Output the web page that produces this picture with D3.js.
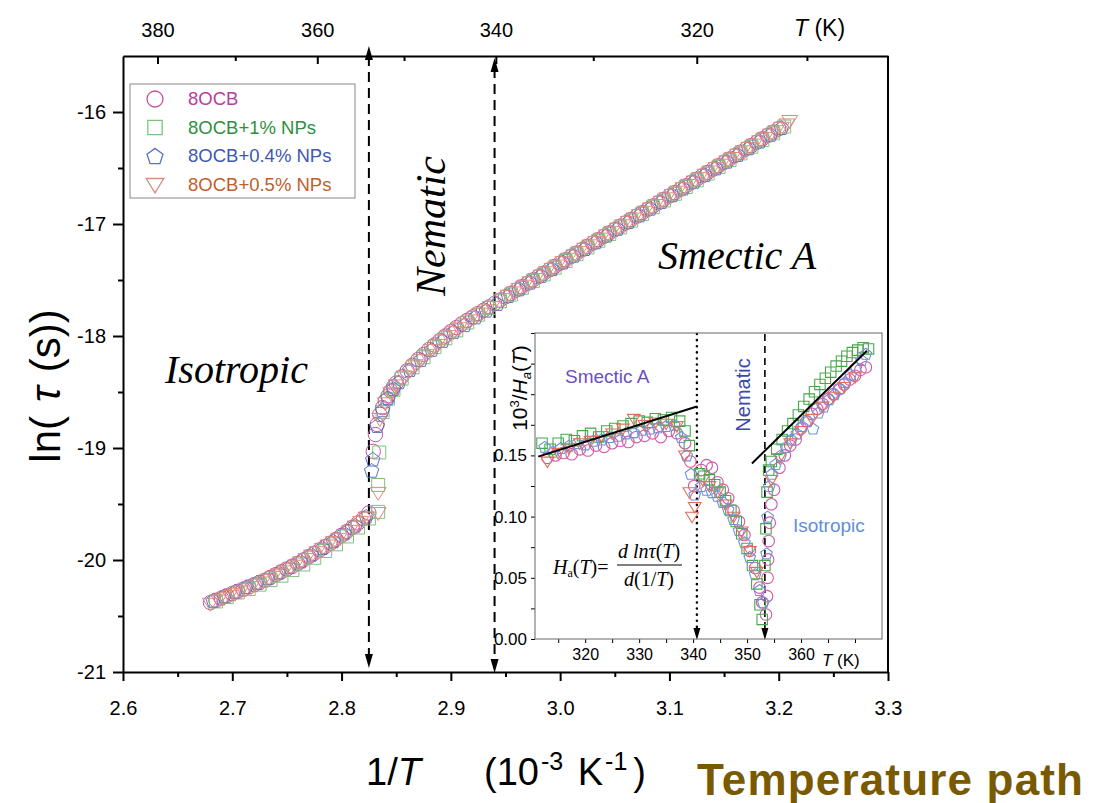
<!DOCTYPE html>
<html lang="en">
<head>
<meta charset="UTF-8" />
<title>ln(tau) vs 1/T</title>
<script src="https://d3js.org/d3.v7.min.js"></script>
<style>
  body { margin: 0; background: #fff; }
  svg { font-family: "Liberation Sans", Arial, sans-serif; }
  .axis path, .axis line { stroke: #000; }
  .axis text { fill: #000; }
  .serif { font-family: "Liberation Serif", "Times New Roman", serif; font-style: italic; }
</style>
</head>
<body>
<svg id="chart" width="1099" height="803"></svg>
<script>
// ---- main plot data: [1/T (1e-3 K^-1), ln(tau)] ----
var main8OCB = [
  [2.680,-20.38],[2.690,-20.34],[2.700,-20.30],[2.710,-20.26],[2.720,-20.22],[2.730,-20.18],[2.740,-20.13],[2.750,-20.08],
  [2.760,-20.03],[2.770,-19.97],[2.780,-19.91],[2.790,-19.85],[2.800,-19.78],[2.810,-19.71],[2.820,-19.63],[2.825,-19.58],
  [2.685,-20.36],[2.695,-20.32],[2.705,-20.28],[2.715,-20.24],[2.725,-20.20],[2.735,-20.155],[2.745,-20.105],[2.755,-20.055],
  [2.765,-20.00],[2.775,-19.94],[2.785,-19.88],[2.795,-19.815],[2.805,-19.745],[2.815,-19.67],
  [2.829,-19.03],[2.831,-18.88],[2.835,-18.70],[2.840,-18.58],[2.845,-18.49],[2.850,-18.42],[2.860,-18.31],[2.870,-18.21],
  [2.880,-18.12],[2.890,-18.04],[2.900,-17.96],[2.910,-17.89],[2.920,-17.83],[2.930,-17.77],[2.940,-17.71],
  [2.8325,-18.79],[2.8375,-18.64],[2.8425,-18.535],[2.8475,-18.455],[2.855,-18.365],[2.865,-18.26],[2.875,-18.165],
  [2.885,-18.08],[2.895,-18.00],[2.905,-17.925],[2.915,-17.86],[2.925,-17.80],[2.935,-17.74],
  [2.950,-17.65],[2.960,-17.59],[2.970,-17.53],[2.980,-17.47],[2.990,-17.41],[3.000,-17.35],[3.010,-17.29],[3.020,-17.23],
  [3.030,-17.17],[3.040,-17.11],[3.050,-17.05],[3.060,-16.99],[3.070,-16.93],[3.080,-16.87],[3.090,-16.81],[3.100,-16.75],
  [3.110,-16.69],[3.120,-16.63],[3.130,-16.57],[3.140,-16.51],[3.150,-16.45],[3.160,-16.39],[3.170,-16.33],[3.180,-16.27],
  [3.190,-16.21],[3.200,-16.15],
  [2.945,-17.68],[2.955,-17.62],[2.965,-17.56],[2.975,-17.50],[2.985,-17.44],[2.995,-17.38],[3.005,-17.32],[3.015,-17.26],
  [3.025,-17.20],[3.035,-17.14],[3.045,-17.08],[3.055,-17.02],[3.065,-16.96],[3.075,-16.90],[3.085,-16.84],[3.095,-16.78],
  [3.105,-16.72],[3.115,-16.66],[3.125,-16.60],[3.135,-16.54],[3.145,-16.48],[3.155,-16.42],[3.165,-16.36],[3.175,-16.30],
  [3.185,-16.24],[3.195,-16.18]
];
var main1NP = [
  [2.685,-20.37],[2.695,-20.33],[2.705,-20.29],[2.715,-20.26],[2.725,-20.22],[2.735,-20.18],[2.745,-20.14],[2.755,-20.09],
  [2.765,-20.04],[2.775,-19.98],[2.785,-19.92],[2.795,-19.86],[2.805,-19.79],[2.815,-19.71],[2.825,-19.63],[2.8335,-19.57],
  [2.8335,-19.33],[2.8345,-19.04],[2.8375,-18.68],[2.8425,-18.56],[2.8475,-18.48],[2.855,-18.38],[2.865,-18.28],[2.875,-18.19],
  [2.885,-18.10],[2.895,-18.02],[2.905,-17.95],[2.915,-17.88],[2.925,-17.81],[2.935,-17.75],
  [2.945,-17.69],[2.955,-17.63],[2.965,-17.57],[2.975,-17.51],[2.985,-17.45],[2.995,-17.39],[3.005,-17.33],[3.015,-17.27],
  [3.025,-17.21],[3.035,-17.15],[3.045,-17.09],[3.055,-17.03],[3.065,-16.97],[3.075,-16.91],[3.085,-16.85],[3.095,-16.79],
  [3.105,-16.73],[3.115,-16.67],[3.125,-16.61],[3.135,-16.55],[3.145,-16.49],[3.155,-16.43],[3.165,-16.37],[3.175,-16.31],
  [3.185,-16.25],[3.195,-16.19],[3.205,-16.13]
];
var main04NP = [
  [2.6825,-20.36],[2.6925,-20.32],[2.7025,-20.28],[2.7125,-20.24],[2.7225,-20.20],[2.7325,-20.16],[2.7425,-20.11],[2.7525,-20.06],
  [2.7625,-20.01],[2.7725,-19.95],[2.7825,-19.89],[2.7925,-19.83],[2.8025,-19.76],[2.8125,-19.69],[2.8225,-19.61],
  [2.8275,-19.20],[2.8285,-19.10],[2.8325,-18.80],[2.8375,-18.66],[2.8425,-18.55],[2.8475,-18.47],[2.8525,-18.41],[2.8625,-18.30],
  [2.8725,-18.21],[2.8825,-18.12],[2.8925,-18.04],[2.9025,-17.96],[2.9125,-17.90],[2.9225,-17.83],[2.9325,-17.77],[2.9425,-17.71],
  [2.9525,-17.64],[2.9625,-17.58],[2.9725,-17.52],[2.9825,-17.46],[2.9925,-17.40],[3.0025,-17.34],[3.0125,-17.28],[3.0225,-17.22],
  [3.0325,-17.16],[3.0425,-17.10],[3.0525,-17.04],[3.0625,-16.98],[3.0725,-16.92],[3.0825,-16.86],[3.0925,-16.80],[3.1025,-16.74],
  [3.1125,-16.68],[3.1225,-16.62],[3.1325,-16.56],[3.1425,-16.50],[3.1525,-16.44],[3.1625,-16.38],[3.1725,-16.32],[3.1825,-16.26],
  [3.1925,-16.20],[3.2025,-16.14]
];
var main05NP = [
  [2.680,-20.39],[2.6875,-20.36],[2.6975,-20.32],[2.7075,-20.28],[2.7175,-20.24],[2.7275,-20.20],[2.7375,-20.15],[2.7475,-20.10],
  [2.7575,-20.05],[2.7675,-19.99],[2.7775,-19.93],[2.7875,-19.87],[2.7975,-19.81],[2.8075,-19.74],[2.8175,-19.66],[2.8335,-19.58],
  [2.6925,-20.34],[2.7025,-20.30],[2.7125,-20.26],[2.7225,-20.22],[2.7325,-20.175],[2.7425,-20.125],[2.7525,-20.075],
  [2.7625,-20.02],[2.7725,-19.96],[2.7825,-19.90],[2.7925,-19.84],[2.8025,-19.775],[2.8125,-19.70],[2.8225,-19.62],
  [2.8335,-19.40],[2.835,-18.74],[2.840,-18.60],[2.845,-18.51],[2.850,-18.44],[2.8575,-18.36],[2.8675,-18.26],[2.8775,-18.17],
  [2.8875,-18.08],[2.8975,-18.00],[2.9075,-17.93],[2.9175,-17.86],[2.9275,-17.80],[2.9375,-17.74],
  [2.8625,-18.31],[2.8725,-18.215],[2.8825,-18.125],[2.8925,-18.04],[2.9025,-17.965],[2.9125,-17.895],[2.9225,-17.83],[2.9325,-17.77],
  [2.9475,-17.67],[2.9575,-17.61],[2.9675,-17.55],[2.9775,-17.49],[2.9875,-17.43],[2.9975,-17.37],[3.0075,-17.31],[3.0175,-17.25],
  [3.0275,-17.19],[3.0375,-17.13],[3.0475,-17.07],[3.0575,-17.01],[3.0675,-16.95],[3.0775,-16.89],[3.0875,-16.83],[3.0975,-16.77],
  [3.1075,-16.71],[3.1175,-16.65],[3.1275,-16.59],[3.1375,-16.53],[3.1475,-16.47],[3.1575,-16.41],[3.1675,-16.35],[3.1775,-16.29],
  [3.1875,-16.23],[3.1975,-16.17],[3.2075,-16.11],[3.2100,-16.08],
  [2.9525,-17.64],[2.9625,-17.58],[2.9725,-17.52],[2.9825,-17.46],[2.9925,-17.40],[3.0025,-17.34],[3.0125,-17.28],[3.0225,-17.22],
  [3.0325,-17.16],[3.0425,-17.10],[3.0525,-17.04],[3.0625,-16.98],[3.0725,-16.92],[3.0825,-16.86],[3.0925,-16.80],[3.1025,-16.74],
  [3.1125,-16.68],[3.1225,-16.62],[3.1325,-16.56],[3.1425,-16.50],[3.1525,-16.44],[3.1625,-16.38],[3.1725,-16.32],[3.1825,-16.26],
  [3.1925,-16.20],[3.2025,-16.14]
];

// ---- inset data: [T (K), 1e3/Ha(T)] ----
var inset8OCB = [
  [313,0.148],[314.5,0.150],[316,0.152],[317.5,0.151],[319,0.155],[320.5,0.154],[322,0.158],[323.5,0.157],[325,0.160],
  [326.5,0.162],[328,0.161],[329.5,0.165],[331,0.166],[332.5,0.168],[334,0.165],[335.5,0.170],[337,0.168],[338.5,0.160],
  [339.5,0.145],[340.2,0.125],
  [341.5,0.138],[342.5,0.142],[343.5,0.140],[344.5,0.128],[345.5,0.122],[346.5,0.115],[347.5,0.105],[348.5,0.096],
  [349.5,0.085],[350.5,0.072],[351.5,0.058],[352.3,0.042],[352.8,0.030],
  [353.5,0.020],[353.7,0.035],[353.8,0.050],[353.9,0.065],[354.0,0.080],[354.2,0.095],[354.5,0.110],[355,0.122],[356,0.140],
  [357,0.150],[358,0.158],[359,0.163],[360,0.172],[361,0.178],[362,0.184],[363,0.188],[364,0.192],[365,0.196],[366,0.200],
  [367,0.204],[368,0.208],[369,0.212],[370,0.215],[371,0.220],[372,0.222]
];
var inset1NP = [
  [312,0.160],[313.5,0.155],[315,0.160],[316.5,0.163],[318,0.162],[319.5,0.166],[321,0.168],[322.5,0.165],[324,0.170],
  [325.5,0.172],[327,0.174],[328.5,0.176],[330,0.178],[331.5,0.177],[333,0.180],[334.5,0.179],[336,0.181],[337.5,0.178],
  [338.5,0.170],[339.3,0.158],
  [341.2,0.135],[342,0.133],[343,0.130],[344,0.126],[345,0.120],[346,0.113],[347,0.105],[348,0.096],[349,0.086],[350,0.074],
  [351,0.060],[351.8,0.045],[352.4,0.028],[352.8,0.016],
  [353.3,0.060],[353.5,0.090],[353.7,0.120],[354,0.138],[354.5,0.145],[355.5,0.155],[356.5,0.163],[357.5,0.170],[358.5,0.176],
  [359.5,0.183],[360.5,0.190],[361.5,0.196],[362.5,0.202],[363.5,0.208],[364.5,0.213],[365.5,0.218],[366.5,0.223],[367.5,0.227],
  [368.5,0.231],[369.5,0.234],[370.5,0.236],[371.5,0.238],[372.5,0.237]
];
var inset04NP = [
  [312.5,0.157],[314,0.153],[315.5,0.156],[317,0.158],[318.5,0.160],[320,0.159],[321.5,0.162],[323,0.163],[324.5,0.165],
  [326,0.166],[327.5,0.168],[329,0.169],[330.5,0.171],[332,0.172],[333.5,0.173],[335,0.174],[336.5,0.175],[337.8,0.165],
  [338.8,0.150],[339.6,0.135],[340.3,0.118],
  [341.5,0.125],[342.5,0.122],[343.5,0.120],[344.5,0.117],[345.5,0.112],[346.5,0.106],[347.5,0.098],[348.5,0.089],
  [349.5,0.079],[350.5,0.067],[351.5,0.053],[352.3,0.040],[353,0.030],
  [353.6,0.070],[353.8,0.100],[354.1,0.125],[354.6,0.135],[355.3,0.143],[356.2,0.150],[357.2,0.157],[358.2,0.163],[359.2,0.168],
  [360.2,0.174],[361.2,0.178],[362.2,0.172],[363.2,0.185],[364.2,0.190],[365.2,0.196],[366.2,0.200],[367.2,0.205],[368.2,0.210],
  [369.2,0.216],[370.2,0.222],[371.2,0.228],[372,0.233]
];
var inset05NP = [
  [313,0.145],[315,0.152],[317,0.156],[319,0.160],[321,0.162],[323,0.166],[325,0.168],[327,0.172],[329,0.180],[331,0.175],
  [333,0.177],[335,0.176],[337,0.174],[338.5,0.150],[339.3,0.120],[339.8,0.100],[340.3,0.108],
  [341.8,0.130],[343,0.125],[344.5,0.120],[346,0.110],[347.5,0.100],[349,0.088],[350.5,0.072],[351.8,0.055],
  [354.5,0.130],[356,0.148],[358,0.160],[360,0.170],[362,0.180],[364,0.190],[366,0.198],[368,0.206],[370,0.214]
];
// linear fits drawn in the inset
var fitSmectic = [[311.3,0.149],[340.7,0.190]];
var fitIsotropic = [[350.9,0.1434],[372.2,0.2355]];

var seriesNames = ["8OCB", "8OCB+1% NPs", "8OCB+0.4% NPs", "8OCB+0.5% NPs"];
var mainData = [main8OCB, main1NP, main04NP, main05NP];
var insetData = [inset8OCB, inset1NP, inset04NP, inset05NP];

// transitions (1/T and T)
var transInvT = [2.825, 2.94];
var transT = [340.7, 353.3];

var topTempMajor = [380, 360, 340, 320];
var topTempMinor = [370, 350, 330, 310];

// ---- styles ----
var shapes = ["circle", "square", "pentagon", "triangle"];
var markColor = ["#c4509c", "#7cc47c", "#5a73c4", "#d98c80"];
var legendTextColor = ["#b8409a", "#2f8f3f", "#4058b0", "#c0602c"];
var insetColor = ["#d05aa8", "#46a84c", "#6f92dc", "#e0705c"];

var svg = d3.select("#chart");

function markerPath(shape, r) {
  if (shape === "circle") return d3.symbol(d3.symbolCircle, Math.PI * r * r)();
  if (shape === "square") return d3.symbol(d3.symbolSquare, (1.8 * r) * (1.8 * r))();
  if (shape === "pentagon") {
    var pts = d3.range(5).map(function (k) {
      var a = -Math.PI / 2 + k * 2 * Math.PI / 5;
      return [r * 1.05 * Math.cos(a), r * 1.05 * Math.sin(a) + r * 0.1];
    });
    return "M" + pts.join("L") + "Z";
  }
  // triangle pointing down
  return "M" + (-r * 1.1) + "," + (-r * 0.75) + "L" + (r * 1.1) + "," + (-r * 0.75) + "L0," + (r * 1.05) + "Z";
}

// ---- main scales ----
var x = d3.scaleLinear().domain([2.6, 3.3]).range([123, 888]);
var y = d3.scaleLinear().domain([-21, -15.5]).range([672, 56]);

// bottom axis
svg.append("g").attr("class", "axis").attr("transform", "translate(0,672)")
  .call(d3.axisBottom(x).tickValues(d3.range(2.65, 3.3, 0.1)).tickSize(5).tickFormat(""))
  .call(function (g) { g.select(".domain").remove(); g.selectAll("line").attr("stroke-width", 2); });
svg.append("g").attr("class", "axis").attr("transform", "translate(0,672)")
  .call(d3.axisBottom(x).tickValues(d3.range(2.6, 3.31, 0.1)).tickSize(9).tickPadding(20).tickSizeOuter(0)
    .tickFormat(d3.format(".1f")))
  .call(function (g) {
    g.select(".domain").attr("stroke-width", 2);
    g.selectAll("line").attr("stroke-width", 2);
    g.selectAll("text").attr("font-size", 20);
  });

// left axis
svg.append("g").attr("class", "axis").attr("transform", "translate(123,0)")
  .call(d3.axisLeft(y).tickValues(d3.range(-20.5, -15.5, 1)).tickSize(5).tickFormat(""))
  .call(function (g) { g.select(".domain").remove(); g.selectAll("line").attr("stroke-width", 2); });
svg.append("g").attr("class", "axis").attr("transform", "translate(123,0)")
  .call(d3.axisLeft(y).tickValues([-21, -20, -19, -18, -17, -16]).tickSize(10).tickPadding(7).tickSizeOuter(0)
    .tickFormat(d3.format("d")))
  .call(function (g) {
    g.select(".domain").attr("stroke-width", 2);
    g.selectAll("line").attr("stroke-width", 2);
    g.selectAll("text").attr("font-size", 20).text(function (d) { return "-" + Math.abs(d); });
  });

// top axis in temperature
svg.append("g").attr("class", "axis").attr("transform", "translate(0,56)")
  .call(d3.axisTop(x).tickValues(topTempMinor.map(function (t) { return 1000 / t; })).tickSize(-5).tickFormat(""))
  .call(function (g) { g.select(".domain").remove(); g.selectAll("line").attr("stroke-width", 2); });
svg.append("g").attr("class", "axis").attr("transform", "translate(0,56)")
  .call(d3.axisTop(x).tickValues(topTempMajor.map(function (t) { return 1000 / t; })).tickSize(-8).tickPadding(19)
    .tickSizeOuter(0).tickFormat(function (d) { return Math.round(1000 / d); }))
  .call(function (g) {
    g.select(".domain").attr("stroke-width", 2);
    g.selectAll("line").attr("stroke-width", 2);
    g.selectAll("text").attr("font-size", 20);
  });
var tk = svg.append("text").attr("x", 794).attr("y", 36).attr("font-size", 23);
tk.append("tspan").attr("font-style", "italic").text("T");
tk.append("tspan").text(" (K)");

// right border
svg.append("line").attr("x1", 888).attr("x2", 888).attr("y1", 56).attr("y2", 672)
  .attr("stroke", "#000").attr("stroke-width", 2);

// transition lines with arrows
function arrowHead(g, cx, tipY, dir, w, h) {
  g.append("path")
    .attr("d", "M" + cx + "," + tipY + "L" + (cx - w / 2) + "," + (tipY - dir * h) + "L" + (cx + w / 2) + "," + (tipY - dir * h) + "Z")
    .attr("fill", "#000");
}
var tr = svg.append("g");
var arrowTopTip = [46, 58];
var arrowBotTip = [668, 673];
transInvT.forEach(function (v, i) {
  var cx = x(v);
  tr.append("line").attr("x1", cx).attr("x2", cx).attr("y1", arrowTopTip[i] + 10).attr("y2", arrowBotTip[i] - 10)
    .attr("stroke", "#000").attr("stroke-width", 2).attr("stroke-dasharray", "10,6");
  arrowHead(tr, cx, arrowTopTip[i], -1, 8, 14);
  arrowHead(tr, cx, arrowBotTip[i], 1, 8, 14);
});

// main markers
var mg = svg.append("g");
mainData.forEach(function (data, i) {
  mg.append("g").selectAll("path").data(data).join("path")
    .attr("transform", function (d) { return "translate(" + x(d[0]) + "," + y(d[1]) + ")"; })
    .attr("d", markerPath(shapes[i], 7.2))
    .attr("fill", "none").attr("stroke", markColor[i]).attr("stroke-width", 1);
});

// phase labels
svg.append("text").attr("class", "serif").attr("x", 165).attr("y", 383).attr("font-size", 40).text("Isotropic");
svg.append("text").attr("class", "serif").attr("x", 658).attr("y", 269).attr("font-size", 40).text("Smectic A");
svg.append("text").attr("class", "serif").attr("transform", "translate(445,226) rotate(-90)")
  .attr("text-anchor", "middle").attr("font-size", 42).text("Nematic");

// legend
var lg = svg.append("g");
lg.append("rect").attr("x", 130).attr("y", 84).attr("width", 225).attr("height", 114)
  .attr("fill", "#fff").attr("stroke", "#888").attr("stroke-width", 1);
seriesNames.forEach(function (name, i) {
  var cy = 99 + i * 28.5;
  lg.append("path").attr("transform", "translate(155," + cy + ")").attr("d", markerPath(shapes[i], 8))
    .attr("fill", "none").attr("stroke", markColor[i]).attr("stroke-width", 1.3);
  lg.append("text").attr("x", 188).attr("y", cy + 6).attr("font-size", 18.5).attr("fill", legendTextColor[i]).text(name);
});

// axis titles
var yt = svg.append("text").attr("transform", "translate(60,386) rotate(-90)").attr("text-anchor", "middle")
  .attr("font-size", 42);
yt.append("tspan").text("ln(");
yt.append("tspan").attr("font-style", "italic").attr("dx", 14).text("τ");
yt.append("tspan").attr("dx", 14).text("(s))");

var xt = svg.append("text").attr("x", 366).attr("y", 785).attr("font-size", 38);
xt.append("tspan").text("1/");
xt.append("tspan").attr("font-style", "italic").text("T");
var xt2 = svg.append("text").attr("x", 484).attr("y", 785).attr("font-size", 38);
xt2.append("tspan").text("(10");
xt2.append("tspan").attr("font-size", 25).attr("dy", -15).attr("dx", 2).text("-3");
xt2.append("tspan").attr("dy", 15).attr("dx", 4).text(" K");
xt2.append("tspan").attr("font-size", 25).attr("dy", -15).attr("dx", 2).text("-1");
xt2.append("tspan").attr("dy", 15).attr("dx", 6).text(")");

svg.append("text").attr("x", 697).attr("y", 795).attr("font-size", 44).attr("font-weight", "bold")
  .attr("fill", "#7a5a00").attr("textLength", 386).text("Temperature path");

// ---- inset ----
var xi = d3.scaleLinear().domain([310.7, 375]).range([535, 882]);
var yi = d3.scaleLinear().domain([0, 0.25]).range([639, 333]);
var ig = svg.append("g");
ig.append("rect").attr("x", 535).attr("y", 333).attr("width", 347).attr("height", 306).attr("fill", "#fff");

ig.append("g").attr("class", "axis").attr("transform", "translate(0,639)")
  .call(d3.axisBottom(xi).tickValues(d3.range(315, 375, 5)).tickSize(4).tickPadding(6).tickSizeOuter(0)
    .tickFormat(function (d) { return d % 10 === 0 && d <= 360 ? d : ""; }))
  .call(function (g) {
    g.select(".domain").remove();
    g.selectAll("line").attr("stroke", "#444");
    g.selectAll("text").attr("font-size", 16);
  });
ig.append("g").attr("class", "axis").attr("transform", "translate(535,0)")
  .call(d3.axisLeft(yi).tickValues(d3.range(0, 0.251, 0.025)).tickSize(4).tickPadding(4).tickSizeOuter(0)
    .tickFormat(function (d, i) { return i % 2 === 0 && d < 0.19 ? d3.format(".2f")(d) : ""; }))
  .call(function (g) {
    g.select(".domain").remove();
    g.selectAll("line").attr("stroke", "#444");
    g.selectAll("text").attr("font-size", 17);
  });
var itk = ig.append("text").attr("x", 822).attr("y", 666).attr("font-size", 17);
itk.append("tspan").attr("font-style", "italic").text("T");
itk.append("tspan").text("  (K)");

// inset transitions
transT.forEach(function (t, i) {
  var cx = xi(t);
  ig.append("line").attr("x1", cx).attr("x2", cx).attr("y1", 334).attr("y2", 628)
    .attr("stroke", "#000").attr("stroke-width", i === 0 ? 2.5 : 1.6)
    .attr("stroke-dasharray", i === 0 ? "0.1,6" : "7,5").attr("stroke-linecap", i === 0 ? "round" : "butt");
  arrowHead(ig, cx, 640, 1, 7, 12);
});

// inset markers
insetData.forEach(function (data, i) {
  ig.append("g").selectAll("path").data(data).join("path")
    .attr("transform", function (d) { return "translate(" + xi(d[0]) + "," + yi(d[1]) + ")"; })
    .attr("d", markerPath(shapes[i], 5.8))
    .attr("fill", "none").attr("stroke", insetColor[i]).attr("stroke-width", 1.1);
});

// fits
var line = d3.line().x(function (d) { return xi(d[0]); }).y(function (d) { return yi(d[1]); });
[fitSmectic, fitIsotropic].forEach(function (f) {
  ig.append("path").attr("d", line(f)).attr("stroke", "#000").attr("stroke-width", 2).attr("fill", "none");
});

ig.append("rect").attr("x", 535).attr("y", 333).attr("width", 347).attr("height", 306)
  .attr("fill", "none").attr("stroke", "#666").attr("stroke-width", 1);

// inset labels
ig.append("text").attr("x", 565).attr("y", 383).attr("font-size", 19).attr("fill", "#6a4fc0").text("Smectic A");
ig.append("text").attr("transform", "translate(750,395) rotate(-90)").attr("text-anchor", "middle")
  .attr("font-size", 20).attr("fill", "#3a4aa8").text("Nematic");
ig.append("text").attr("x", 793).attr("y", 532).attr("font-size", 19).attr("fill", "#5e8fd6").text("Isotropic");

var yl = ig.append("text").attr("transform", "translate(527,388) rotate(-90)").attr("text-anchor", "middle").attr("font-size", 21);
yl.append("tspan").text("10");
yl.append("tspan").attr("font-size", 13).attr("dy", -8).text("3");
yl.append("tspan").attr("dy", 8).text("/");
yl.append("tspan").attr("font-style", "italic").text("H");
yl.append("tspan").attr("font-style", "italic").attr("font-size", 13).attr("dy", 4).text("a");
yl.append("tspan").attr("dy", -4).text("(");
yl.append("tspan").attr("font-style", "italic").text("T");
yl.append("tspan").text(")");

// formula
var fm = ig.append("g").attr("class", "serif").attr("font-size", 20);
var lhs = fm.append("text").attr("x", 553).attr("y", 574);
lhs.append("tspan").text("H");
lhs.append("tspan").attr("font-style", "normal").attr("font-size", 12).attr("dy", 3).text("a");
lhs.append("tspan").attr("font-style", "normal").attr("dy", -3).text("(");
lhs.append("tspan").text("T");
lhs.append("tspan").attr("font-style", "normal").text(")=");
var num = fm.append("text").attr("x", 649).attr("y", 558).attr("text-anchor", "middle");
num.append("tspan").text("d ln");
num.append("tspan").text("τ");
num.append("tspan").attr("font-style", "normal").text("(");
num.append("tspan").text("T");
num.append("tspan").attr("font-style", "normal").text(")");
fm.append("line").attr("x1", 617).attr("x2", 682).attr("y1", 565).attr("y2", 565).attr("stroke", "#000").attr("stroke-width", 1);
var den = fm.append("text").attr("x", 649).attr("y", 586).attr("text-anchor", "middle");
den.append("tspan").text("d");
den.append("tspan").attr("font-style", "normal").text("(1/");
den.append("tspan").text("T");
den.append("tspan").attr("font-style", "normal").text(")");
</script>
</body>
</html>
